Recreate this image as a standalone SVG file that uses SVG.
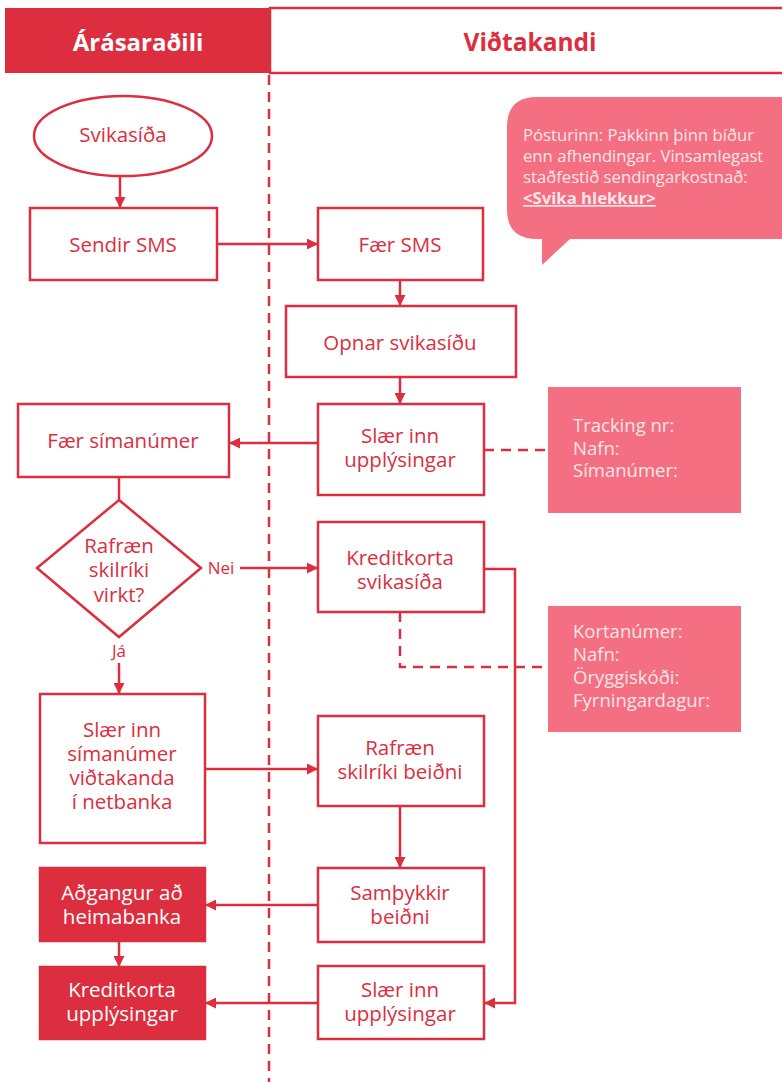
<svg xmlns="http://www.w3.org/2000/svg" width="782" height="1082" viewBox="0 0 782 1082">
<defs>
<style>
.box{fill:#fff;stroke:#dc2e3e;stroke-width:2.5}
.dark{fill:#dc2e3e;stroke:#dc2e3e;stroke-width:2.5}
.pink{fill:#f36f81}
.t{font-family:"Open Sans","Liberation Sans",sans-serif;font-size:20.5px;fill:#dc2e3e;text-anchor:middle}
.tw{font-family:"Open Sans","Liberation Sans",sans-serif;font-size:20.5px;fill:#fff;text-anchor:middle}
.tp{font-family:"Open Sans","Liberation Sans",sans-serif;font-size:18.5px;fill:#fde6e9}
.tb{font-family:"Open Sans","Liberation Sans",sans-serif;font-size:16.7px;fill:#fde6e9}
.lbl{font-family:"Open Sans","Liberation Sans",sans-serif;font-size:17px;fill:#dc2e3e;text-anchor:middle}
.ln{fill:none;stroke:#dc2e3e;stroke-width:2.5}
.dash{fill:none;stroke:#dc2e3e;stroke-width:2.5;stroke-dasharray:10 7}
</style>
<marker id="ah" viewBox="0 0 10 10" refX="10" refY="5" markerWidth="11" markerHeight="11" markerUnits="userSpaceOnUse" orient="auto">
<path d="M0,0 L10,5 L0,10 Z" fill="#dc2e3e"/>
</marker>
</defs>

<g id="header">
<rect x="5" y="8" width="265" height="65" fill="#dc2e3e"/>
<rect x="270" y="8" width="520" height="65" fill="#fff" stroke="#dc2e3e" stroke-width="2.5"/>
<text x="138" y="51" font-family="'Open Sans','Liberation Sans',sans-serif" font-size="24" font-weight="bold" fill="#fff" text-anchor="middle">Árásaraðili</text>
<text x="530" y="51" font-family="'Open Sans','Liberation Sans',sans-serif" font-size="24.5" font-weight="bold" fill="#dc2e3e" text-anchor="middle">Viðtakandi</text>
</g>

<g id="lane-divider">
<line x1="269" y1="75" x2="269" y2="1082" class="dash" stroke-dasharray="10 6"/>
</g>

<g id="connectors">
<line x1="120" y1="176" x2="120" y2="208" class="ln" marker-end="url(#ah)"/>
<line x1="217" y1="244" x2="318" y2="244" class="ln" marker-end="url(#ah)"/>
<line x1="400" y1="280" x2="400" y2="306" class="ln" marker-end="url(#ah)"/>
<line x1="400" y1="377" x2="400" y2="404" class="ln" marker-end="url(#ah)"/>
<line x1="318" y1="443" x2="229" y2="443" class="ln" marker-end="url(#ah)"/>
<line x1="119" y1="477" x2="119" y2="500" class="ln"/>
<line x1="240" y1="568" x2="318" y2="568" class="ln" marker-end="url(#ah)"/>
<line x1="119" y1="663" x2="119" y2="694" class="ln" marker-end="url(#ah)"/>
<line x1="205" y1="769" x2="318" y2="769" class="ln" marker-end="url(#ah)"/>
<line x1="400" y1="806" x2="400" y2="868" class="ln" marker-end="url(#ah)"/>
<line x1="318" y1="905" x2="205" y2="905" class="ln" marker-end="url(#ah)"/>
<line x1="119" y1="941" x2="119" y2="967" class="ln" marker-end="url(#ah)"/>
<line x1="318" y1="1003" x2="205" y2="1003" class="ln" marker-end="url(#ah)"/>
<polyline points="484,569 515,569 515,1003 484,1003" class="ln" marker-end="url(#ah)"/>
<line x1="484" y1="450" x2="548" y2="450" class="dash"/>
<polyline points="400,612 400,667 548,667" class="dash"/>
</g>

<g id="n-svikasida">
<ellipse cx="123" cy="136" rx="89" ry="40" class="box"/>
<text x="123" y="142" class="t">Svikasíða</text>
</g>
<g id="n-sendir-sms">
<rect x="30" y="208" width="187" height="72" class="box"/>
<text x="123" y="252" class="t">Sendir SMS</text>
</g>
<g id="n-faer-sms">
<rect x="318" y="208" width="165" height="72" class="box"/>
<text x="400" y="252" class="t">Fær SMS</text>
</g>
<g id="n-opnar">
<rect x="286" y="306" width="230" height="71" class="box"/>
<text x="400" y="350" class="t">Opnar svikasíðu</text>
</g>
<g id="n-slaer-inn-1">
<rect x="318" y="404" width="166" height="91" class="box"/>
<text x="400" y="443" class="t">Slær inn</text>
<text x="400" y="467" class="t">upplýsingar</text>
</g>
<g id="n-faer-simanumer">
<rect x="18" y="404" width="211" height="73" class="box"/>
<text x="123" y="448" class="t">Fær símanúmer</text>
</g>
<g id="n-decision">
<polygon points="119,500 201,568 119,637 37,568" class="box"/>
<text x="119" y="553" class="t">Rafræn</text>
<text x="119" y="577" class="t">skilríki</text>
<text x="119" y="602" class="t">virkt?</text>
<text x="221" y="574" class="lbl">Nei</text>
<text x="119" y="657" class="lbl">Já</text>
</g>
<g id="n-kreditkorta-svikasida">
<rect x="318" y="522" width="166" height="90" class="box"/>
<text x="400" y="565" class="t">Kreditkorta</text>
<text x="400" y="589" class="t">svikasíða</text>
</g>
<g id="n-slaer-inn-simanumer">
<rect x="40" y="694" width="165" height="149" class="box"/>
<text x="122" y="737" class="t">Slær inn</text>
<text x="122" y="761" class="t">símanúmer</text>
<text x="122" y="785" class="t">viðtakanda</text>
<text x="122" y="809" class="t">í netbanka</text>
</g>
<g id="n-rafraen-beidni">
<rect x="318" y="716" width="166" height="90" class="box"/>
<text x="400" y="755" class="t">Rafræn</text>
<text x="400" y="779" class="t">skilríki beiðni</text>
</g>
<g id="n-sampykkir">
<rect x="318" y="868" width="166" height="74" class="box"/>
<text x="400" y="900" class="t">Samþykkir</text>
<text x="400" y="924" class="t">beiðni</text>
</g>
<g id="n-adgangur">
<rect x="40" y="868" width="165" height="73" class="dark"/>
<text x="122" y="900" class="tw">Aðgangur að</text>
<text x="122" y="924" class="tw">heimabanka</text>
</g>
<g id="n-kreditkorta-upplysingar">
<rect x="40" y="967" width="165" height="72" class="dark"/>
<text x="122" y="997" class="tw">Kreditkorta</text>
<text x="122" y="1021" class="tw">upplýsingar</text>
</g>
<g id="n-slaer-inn-2">
<rect x="318" y="966" width="166" height="73" class="box"/>
<text x="400" y="997" class="t">Slær inn</text>
<text x="400" y="1021" class="t">upplýsingar</text>
</g>

<g id="n-sms-bubble">
<path d="M537,97 H790 V239 H570 L542,265 L542,239 H537 Q507,239 507,209 V127 Q507,97 537,97 Z" class="pink"/>
<text x="523" y="141" class="tb">Pósturinn: Pakkinn þinn bíður</text>
<text x="523" y="162" class="tb">enn afhendingar. Vinsamlegast</text>
<text x="523" y="183" class="tb">staðfestið sendingarkostnað:</text>
<text x="523" y="204" class="tb" font-weight="bold" text-decoration="underline">&lt;Svika hlekkur&gt;</text>
</g>
<g id="n-info-1">
<rect x="548" y="387" width="193" height="126" class="pink"/>
<text x="573" y="432" class="tp">Tracking nr:</text>
<text x="573" y="455" class="tp">Nafn:</text>
<text x="573" y="477" class="tp">Símanúmer:</text>
</g>
<g id="n-info-2">
<rect x="548" y="606" width="193" height="126" class="pink"/>
<text x="573" y="638" class="tp">Kortanúmer:</text>
<text x="573" y="661" class="tp">Nafn:</text>
<text x="573" y="684" class="tp">Öryggiskóði:</text>
<text x="573" y="707" class="tp">Fyrningardagur:</text>
</g>
</svg>
